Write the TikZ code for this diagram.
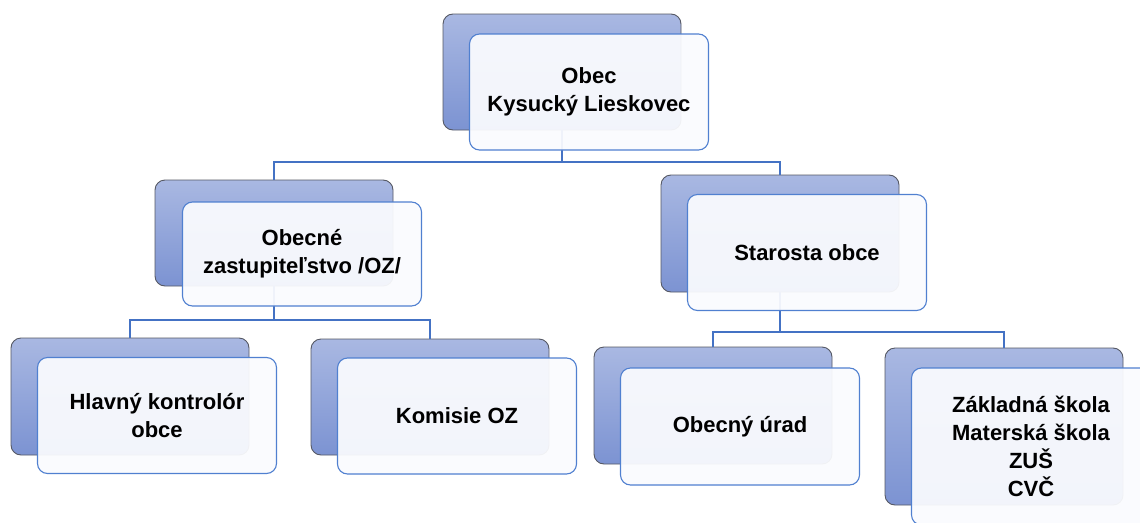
\documentclass[tikz,border=0pt]{standalone}
\usepackage{fontspec}
\setmainfont{Liberation Sans}
\definecolor{backtop}{RGB}{169,184,226}
\definecolor{backbot}{RGB}{124,147,210}
\definecolor{backline}{RGB}{85,88,100}
\definecolor{frontline}{RGB}{80,128,208}
\definecolor{frontfill}{RGB}{250,251,254}
\definecolor{conn}{RGB}{68,114,196}
\tikzset{
  backbox/.style={rectangle, rounded corners=10pt, draw=backline, line width=0.9pt,
    top color=backtop, bottom color=backbot, minimum width=238pt, minimum height=#1, inner sep=0pt},
  backbox/.default=117pt,
  frontbox/.style={rectangle, rounded corners=10pt, draw=frontline, line width=1.1pt,
    fill=frontfill, fill opacity=0.94, text opacity=1, minimum width=239pt, minimum height=#1,
    inner sep=0pt, align=center, font=\bfseries\fontsize{22pt}{28pt}\selectfont},
  frontbox/.default=117pt,
  connline/.style={draw=conn, line width=2pt}
}
\begin{document}
\begin{tikzpicture}[x=1pt,y=-1pt]
\useasboundingbox (0,0) rectangle (1140,522);
\clip (0,0) rectangle (1140,522);
\fill[white] (0,0) rectangle (1140,522);
% back boxes
\node[backbox=116pt] (b0) at (562,72) {};
\node[backbox=106pt] (b1) at (274,233) {};
\node[backbox=117pt] (b2) at (780,233.5) {};
\node[backbox=117pt] (b3) at (130,396.5) {};
\node[backbox=116pt] (b4) at (430,397) {};
\node[backbox=117pt] (b5) at (713,405.5) {};
\node[backbox=157pt] (b6) at (1004,426.5) {};
% junctions
\coordinate (j0) at (562,162);
\coordinate (j1) at (274,320);
\coordinate (j2) at (780,332);
% connectors
\draw[connline] (b0.south) -- (j0) -| (b1.north);
\draw[connline] (j0) -| (b2.north);
\draw[connline] (b1.south) -- (j1) -| (b3.north);
\draw[connline] (j1) -| (b4.north);
\draw[connline] (b2.south) -- (j2) -| (b5.north);
\draw[connline] (j2) -| (b6.north);
% front boxes
\node[frontbox=116pt] (f0) at ([shift={(27pt,-20pt)}]b0.center) {Obec\\Kysucký Lieskovec};
\node[frontbox=104pt] (f1) at ([shift={(28pt,-21pt)}]b1.center) {Obecné\\zastupiteľstvo /OZ/};
\node[frontbox=116pt] (f2) at ([shift={(27pt,-19pt)}]b2.center) {Starosta obce};
\node[frontbox=116pt] (f3) at ([shift={(27pt,-19pt)}]b3.center) {Hlavný kontrolór\\obce};
\node[frontbox=116pt] (f4) at ([shift={(27pt,-19pt)}]b4.center) {Komisie OZ};
\node[frontbox=117pt] (f5) at ([shift={(27pt,-21pt)}]b5.center) {Obecný úrad};
\node[frontbox=157pt] (f6) at ([shift={(27pt,-20pt)}]b6.center) {Základná škola\\Materská škola\\ZUŠ\\CVČ};
\end{tikzpicture}
\end{document}
